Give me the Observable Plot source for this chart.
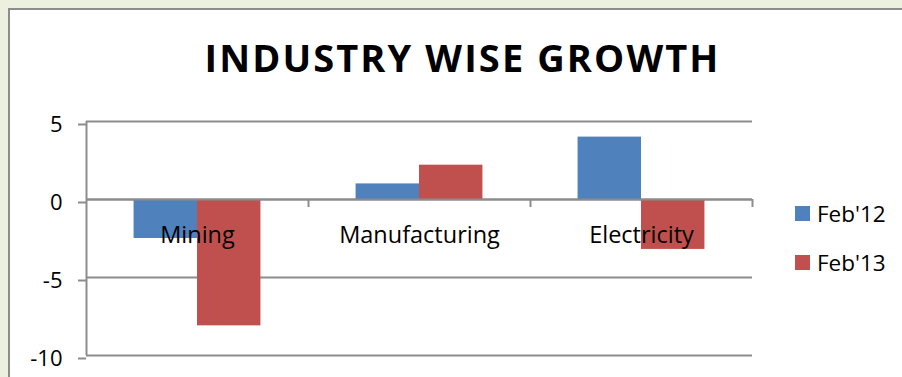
<!DOCTYPE html>
<html>
<head>
<meta charset="utf-8">
<script src="https://cdn.jsdelivr.net/npm/d3@7"></script>
<script src="https://cdn.jsdelivr.net/npm/@observablehq/plot@0.6"></script>
<style>
  html, body { margin: 0; padding: 0; }
  body { width: 902px; height: 377px; background: #EBF1DE; position: relative; overflow: hidden; font-family: "Open Sans", sans-serif; }
  #box { position: absolute; left: 8px; top: 8px; width: 1000px; height: 500px; background: #fff; border-left: 2px solid #8c8c8c; border-top: 2px solid #8c8c8c; }
  #title { position: absolute; left: 0; width: 925px; top: 31px; text-align: center; font-weight: 700; font-size: 38px; letter-spacing: 2.1px; line-height: normal; color: #000; font-family: "Open Sans", sans-serif; }
  #chart { position: absolute; left: 0; top: 0; }
  #legend { position: absolute; left: 795px; top: 189px; }
  #legend .lg-swatch { height: 49px; display: flex; align-items: center; padding: 0; margin: 0; }
  #legend .lg-swatch > svg { margin-right: 7px; }
</style>
</head>
<body>
<div id="box"></div>
<div id="title">INDUSTRY WISE GROWTH</div>
<div id="chart"></div>
<div id="legend"></div>
<script>
const categories = ["Mining", "Manufacturing", "Electricity"];
const series = ["Feb'12", "Feb'13"];
const feb12 = [-2.5, 1.0, 4.0];
const feb13 = [-8.1, 2.2, -3.2];
const yTicks = [-10, -5, 0, 5];
const yTickLabels = ["-10", "-5", "0", "5"];
const colors = ["#4F81BD", "#C0504D"];
const gapWidth = 1.5; // Excel gap width (150%)

const seriesValues = [feb12, feb13];
const rows = [];
categories.forEach((c, ci) => {
  series.forEach((s, si) => {
    rows.push({category: c, ci, series: s, si, value: seriesValues[si][ci]});
  });
});
const slots = series.length + gapWidth;
const gridColor = "#8c8c8c";

const chart = Plot.plot({
  width: 902,
  height: 377,
  marginLeft: 86,
  marginRight: 150,
  marginTop: 121,
  marginBottom: 22,
  style: {background: "transparent", fontFamily: "Open Sans", fontSize: "22px", color: "#000"},
  x: {domain: [0, categories.length], axis: null},
  y: {domain: [d3.min(yTicks), d3.max(yTicks)]},
  color: {domain: series, range: colors},
  marks: [
    Plot.ruleY(yTicks, {stroke: gridColor, strokeWidth: 2}),
    Plot.rectY(rows, {
      x1: d => d.ci + (gapWidth / 2 + d.si) / slots,
      x2: d => d.ci + (gapWidth / 2 + d.si + 1) / slots,
      y1: 0,
      y2: "value",
      fill: "series"
    }),
    Plot.ruleY([0], {stroke: gridColor, strokeWidth: 2}),
    Plot.ruleX([0], {stroke: gridColor, strokeWidth: 2}),
    Plot.ruleX(d3.range(1, categories.length + 1), {y1: 0, y2: 0, insetBottom: -8, stroke: gridColor, strokeWidth: 2}),
    Plot.axisY({
      ticks: yTicks,
      tickFormat: d => yTickLabels[yTicks.indexOf(d)],
      tickSize: 8, tickPadding: 16, stroke: gridColor, strokeWidth: 2,
      color: "#000", fontSize: 22, dy: 3, label: null
    }),
    Plot.text(categories, {x: (d, i) => i + 0.5, y: 0, dy: 43, lineAnchor: "bottom", fontSize: 23.5, fill: "#000", fontFamily: "Open Sans"})
  ]
});
document.getElementById("chart").appendChild(chart);

const legend = Plot.legend({
  color: {domain: series, range: colors},
  legend: "swatches",
  columns: 1,
  swatchSize: 15,
  className: "lg",
  style: {fontSize: "22.5px", fontFamily: "Open Sans", color: "#000"}
});
document.getElementById("legend").appendChild(legend);
</script>
</body>
</html>
